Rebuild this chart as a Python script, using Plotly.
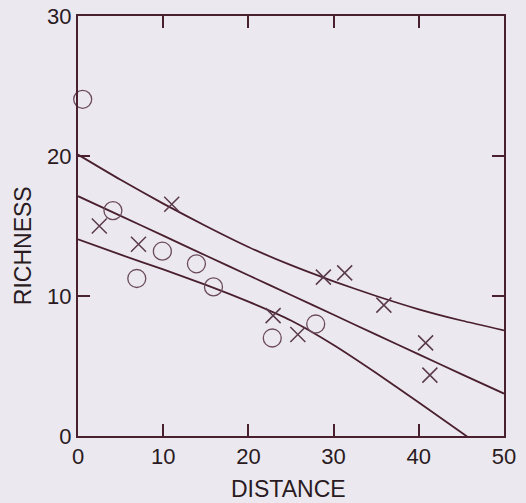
import plotly.graph_objects as go

# Data
circle_x = [0.55, 4.1, 6.9, 9.9, 13.9, 15.9, 22.8, 27.9]
circle_y = [24.05, 16.1, 11.25, 13.2, 12.3, 10.65, 7.0, 8.0]

cross_x = [2.5, 7.1, 11.0, 22.9, 25.8, 28.8, 31.3, 35.9, 40.8, 41.3]
cross_y = [15.0, 13.7, 16.55, 8.6, 7.25, 11.35, 11.65, 9.35, 6.65, 4.35]

line_x = [0, 5, 10, 15, 20, 25, 30, 35, 40, 45, 50]
upper_y = [20.1, 18.3, 16.6, 15.0, 13.5, 12.2, 11.05, 10.0, 9.05, 8.25, 7.55]
fit_y = [17.13, 15.72, 14.31, 12.89, 11.48, 10.07, 8.66, 7.24, 5.83, 4.42, 3.03]
lower_y = [14.05, 12.95, 11.9, 10.8, 9.6, 8.25, 6.5, 4.5, 2.4, 0.25, -1.9]

x_ticks = [0, 10, 20, 30, 40, 50]
y_ticks = [0, 10, 20, 30]

AX = "#4a1f2e"
TXT = "#2a1a22"
BG = "#ebe9ef"
FONT = "Liberation Sans, Arial, Helvetica, sans-serif"

fig = go.Figure()
for ys in (upper_y, fit_y, lower_y):
    fig.add_trace(go.Scatter(x=line_x, y=ys, mode="lines",
                             line=dict(color=AX, width=1.8, shape="spline", smoothing=0.6),
                             hoverinfo="skip", showlegend=False))

fig.add_trace(go.Scatter(x=circle_x, y=circle_y, mode="markers", cliponaxis=False,
                         marker=dict(symbol="circle-open", size=18, color="#6b4a5c",
                                     line=dict(width=1.3)),
                         showlegend=False))
fig.add_trace(go.Scatter(x=cross_x, y=cross_y, mode="markers", cliponaxis=False,
                         marker=dict(symbol="x-thin-open", size=15, color="#5a3a4c",
                                     line=dict(width=1.5)),
                         showlegend=False))

axis_common = dict(showline=True, linecolor=AX, linewidth=2, mirror="ticks",
                   ticks="inside", ticklen=12, tickwidth=2, tickcolor=AX,
                   showgrid=False, zeroline=False, automargin=False,
                   tickfont=dict(family=FONT, size=22, color=TXT))

fig.update_xaxes(range=[0, 50], tickvals=x_ticks, ticktext=[str(v) for v in x_ticks],
                 **axis_common)
fig.update_yaxes(range=[0, 30], tickvals=y_ticks, ticktext=[str(v) for v in y_ticks],
                 **axis_common)

fig.add_annotation(text="DISTANCE", xref="paper", yref="paper", x=0.493, y=0,
                   yshift=-53, xanchor="center", yanchor="middle", showarrow=False,
                   font=dict(family=FONT, size=23, color=TXT))
fig.add_annotation(text="RICHNESS", xref="paper", yref="paper", x=0, y=0.452,
                   xshift=-55, xanchor="center", yanchor="middle", textangle=-90,
                   showarrow=False, font=dict(family=FONT, size=23, color=TXT))

fig.update_layout(width=526, height=503,
                  margin=dict(l=78, r=22, t=16, b=67, autoexpand=False),
                  paper_bgcolor=BG, plot_bgcolor=BG)

fig.write_html("out.html")
